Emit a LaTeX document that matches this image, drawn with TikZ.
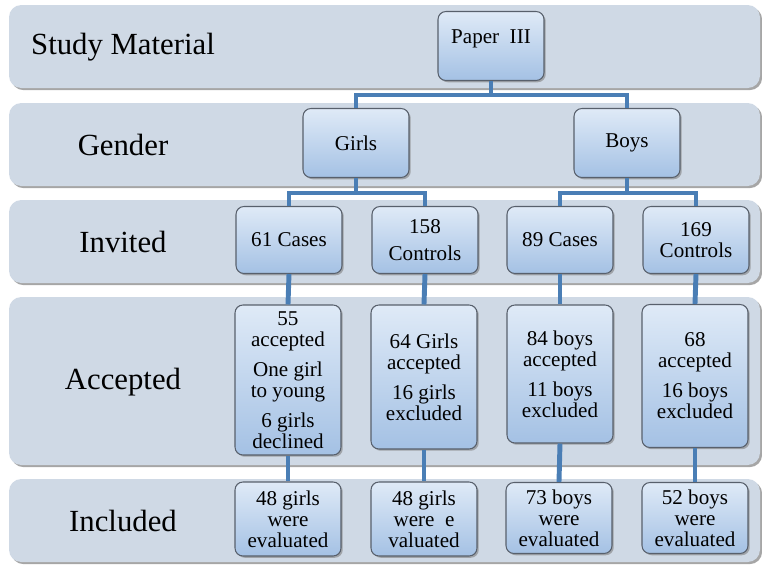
\documentclass[tikz,border=0pt]{standalone}
\usepackage{fontspec}
\setmainfont{Liberation Serif}
\usetikzlibrary{shadows}

\definecolor{bandgray}{RGB}{207,217,229}
\definecolor{boxtop}{RGB}{223,234,247}
\definecolor{boxbottom}{RGB}{164,193,228}
\definecolor{linkblue}{RGB}{74,126,181}
\definecolor{rimgray}{RGB}{88,96,108}

\begin{document}
\begin{tikzpicture}[x=0.02cm, y=-0.02cm,
    band/.style={fill=bandgray, rounded corners=7pt,
        drop shadow={shadow xshift=1.2pt, shadow yshift=-1.2pt, fill=black!50, opacity=0.7}},
    rowlabel/.style={font=\fontsize{17.5}{20}\selectfont},
    card/.style={draw=rimgray, line width=0.6pt, rounded corners=4.5pt,
        top color=boxtop, bottom color=boxbottom, align=center,
        minimum width=2.12cm, inner sep=2pt,
        font=\fontsize{12}{12}\selectfont,
        drop shadow={shadow xshift=1pt, shadow yshift=-1pt, fill=black!50, opacity=0.6}},
    link/.style={draw=linkblue, line width=2.8pt}]

                \useasboundingbox (0,0) rectangle (762,565);

                % Draw bands
                \path[band] (9,5) rectangle (760,88);
                \path[band] (9,103) rectangle (760,186);
                \path[band] (9,200) rectangle (760,283);
                \path[band] (9,297) rectangle (760,465);
                \path[band] (9,479) rectangle (760,562);

                % Band labels
                \node[rowlabel] (lstudy) at (123,47) {Study Material};
                \node[rowlabel] (lgender) at (123,145) {Gender};
                \node[rowlabel] (linvited) at (123,242) {Invited};
                \node[rowlabel] (laccepted) at (123,382) {Accepted};
                \node[rowlabel] (lincluded) at (123,521) {Included};

                % Draw top boxes
                \node[card, minimum height=1.38cm] (paper) at (491,46) {\raisebox{11pt}{Paper~~III}};
                \node[card, minimum height=1.38cm] (girls) at (356,143) {\raisebox{-2pt}{Girls}};
                \node[card, minimum height=1.38cm] (boys) at (627,143) {\raisebox{-2pt}{Boys}};

                % Invited
                \node[card, minimum height=1.34cm] (cases1) at (289,240) {61 Cases};
                \node[card, minimum height=1.34cm] (ctrl1) at (425,240) {158\\[3pt]Controls};
                \node[card, minimum height=1.34cm] (cases2) at (560,240) {89 Cases};
                \node[card, minimum height=1.34cm] (ctrl2) at (696,240) {169\\Controls};

                % Accepted
                \node[card, minimum height=3.0cm] (acc1) at (288,380)
                    {55\\accepted\\[5pt]One girl\\to young\\[5pt]6 girls\\declined};
                \node[card, minimum height=2.88cm] (acc2) at (424,377)
                    {64 Girls\\accepted\\[5pt]16 girls\\excluded};
                \node[card, minimum height=2.76cm] (acc3) at (560,374)
                    {84 boys\\accepted\\[5pt]11 boys\\excluded};
                \node[card, minimum height=2.86cm] (acc4) at (695,376)
                    {68\\accepted\\[5pt]16 boys\\excluded};

                % Included
                \node[card, minimum height=1.48cm] (inc1) at (288,519) {48 girls\\were\\evaluated};
                \node[card, minimum height=1.48cm] (inc2) at (424,519) {48 girls\\were\ \ e\\valuated};
                \node[card, minimum height=1.42cm] (inc3) at (559,518) {73 boys\\were\\evaluated};
                \node[card, minimum height=1.42cm] (inc4) at (695,518) {52 boys\\were\\evaluated};

                % Connectors
                \draw[link] (paper.south) -- ++(0,14) coordinate (pbus) -| (girls.north);
                \draw[link] (pbus) -| (boys.north);
                \draw[link] (girls.south) -- ++(0,15) coordinate (gbus) -| (cases1.north);
                \draw[link] (gbus) -| (ctrl1.north);
                \draw[link] (boys.south) -- ++(0,15) coordinate (bbus) -| (cases2.north);
                \draw[link] (bbus) -| (ctrl2.north);

                \foreach \top/\mid/\low in {cases1/acc1/inc1, ctrl1/acc2/inc2, cases2/acc3/inc3, ctrl2/acc4/inc4}
                {
                    \draw[link] (\top.south) -- (\mid.north);
                    \draw[link] (\mid.south) -- (\low.north);
                }

\end{tikzpicture}
\end{document}
